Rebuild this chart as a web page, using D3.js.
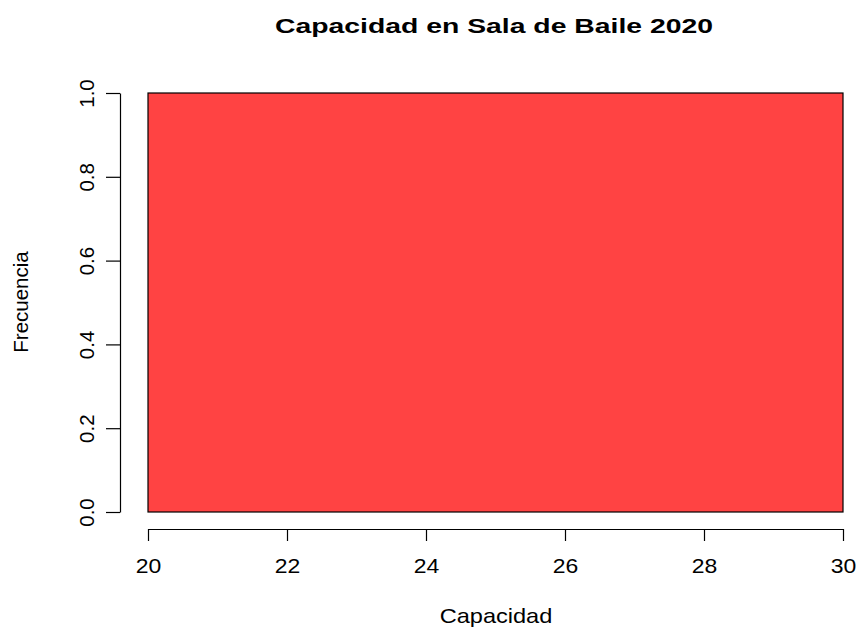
<!DOCTYPE html>
<html>
<head>
<meta charset="utf-8">
<script src="https://cdn.jsdelivr.net/npm/d3@7"></script>
<style>
  body { margin: 0; background: #fff; }
  text { font-family: "Liberation Sans", Arial, sans-serif; }
</style>
</head>
<body>
<svg id="chart" width="858" height="627"></svg>
<script>
// Histogram data
const binStart = [20];
const binEnd = [30];
const counts = [1];
const xTicks = [20, 22, 24, 26, 28, 30];
const yTicks = [0, 0.2, 0.4, 0.6, 0.8, 1.0];

const svg = d3.select("#chart"),
  width = +svg.attr("width"),
  height = +svg.attr("height");

const x = d3.scaleLinear().domain([20, 30]).range([148, 843]);
const y = d3.scaleLinear().domain([0, 1]).range([512, 93]);

// bars
svg.selectAll("rect.bar")
  .data(counts)
  .join("rect")
  .attr("class", "bar")
  .attr("x", (d, i) => x(binStart[i]))
  .attr("y", (d) => y(d))
  .attr("width", (d, i) => x(binEnd[i]) - x(binStart[i]))
  .attr("height", (d) => y(0) - y(d))
  .attr("fill", "#ff4343")
  .attr("stroke", "#000")
  .attr("stroke-width", 1.2);

// x axis
const gx = svg.append("g")
  .attr("transform", "translate(0,529)")
  .call(d3.axisBottom(x).tickValues(xTicks).tickSize(12).tickSizeOuter(0).tickFormat(d3.format("d")));
gx.select(".domain").attr("stroke", "#000").attr("stroke-width", 1.2);
gx.selectAll(".tick line").attr("stroke", "#000").attr("stroke-width", 1.2);
gx.selectAll(".tick text")
  .attr("y", null)
  .attr("dy", null)
  .attr("transform", "translate(0,573) scale(1.12,1)")
  .attr("transform", "translate(0,44) scale(1.12,1)")
  .style("font-size", "20.5px")
  .attr("fill", "#000");

// y axis
const gy = svg.append("g")
  .attr("transform", "translate(120,0)")
  .call(d3.axisLeft(y).tickValues(yTicks).tickSize(14).tickSizeOuter(0).tickFormat(d3.format(".1f")));
gy.select(".domain").attr("stroke", "#000").attr("stroke-width", 1.2);
gy.selectAll(".tick line").attr("stroke", "#000").attr("stroke-width", 1.2);
gy.selectAll(".tick text")
  .attr("x", null)
  .attr("dy", null)
  .attr("transform", "translate(-26,0) rotate(-90)")
  .attr("text-anchor", "middle")
  .style("font-size", "20.5px")
  .attr("fill", "#000");

// title and labels
svg.append("text")
  .attr("transform", "translate(494,33) scale(1.35,1)")
  .attr("text-anchor", "middle")
  .style("font-size", "21px")
  .style("font-weight", "bold")
  .text("Capacidad en Sala de Baile 2020");

svg.append("text")
  .attr("transform", "translate(496,623) scale(1.15,1)")
  .attr("text-anchor", "middle")
  .style("font-size", "20.5px")
  .text("Capacidad");

svg.append("text")
  .attr("transform", "translate(28,302) rotate(-90)")
  .attr("text-anchor", "middle")
  .style("font-size", "20.5px")
  .text("Frecuencia");
</script>
</body>
</html>
